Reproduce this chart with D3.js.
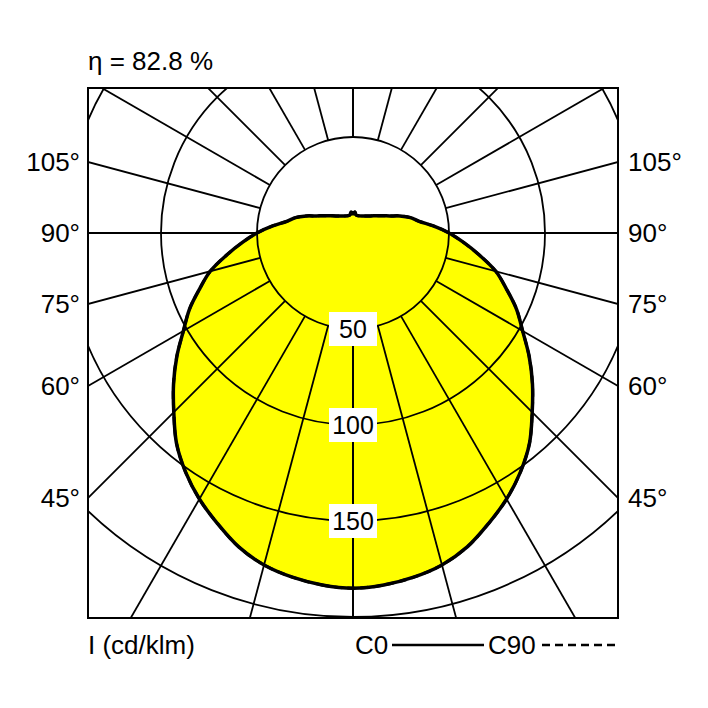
<!DOCTYPE html>
<html><head><meta charset="utf-8">
<script src="https://cdn.jsdelivr.net/npm/d3@7"></script>
<style>body{margin:0;background:#fff}svg text{font-family:"Liberation Sans Narrow","Liberation Sans",sans-serif;}</style>
</head><body>
<script>
// luminous intensity (cd/klm) vs angle from nadir
const angles = [0,5,10,15,20,25,30,35,40,45,50,55,60,65,70,75,80,85,90,95,100,105,110,115,120,130,140,150,160,170,175,180];
const c0 = [185,184,182,179,174,167,160,152,143,132,122,112,102,94,85,77,67,58,50,42,35,31,26,21,18,14,11.5,10.2,9.5,9.5,11,10];
const c90 = c0.slice();
const rings = [50,100,150,200];
const ringLabels = [50,100,150];
const angleTicks = [45,60,75,90,105];
const eta = "η = 82.8 %";

const box = {x0:88, y0:88, x1:618, y1:618};
const cx = 353, cy = 233;
const r = d3.scaleLinear().domain([0,50]).range([0,96]);
const pt = (deg, v, side) => {
  const a = deg*Math.PI/180;
  return [cx + side*r(v)*Math.sin(a), cy + r(v)*Math.cos(a)];
};

const svg = d3.select("body").append("svg").attr("width",708).attr("height",708);
svg.append("clipPath").attr("id","bx").append("rect")
  .attr("x",box.x0).attr("y",box.y0).attr("width",box.x1-box.x0).attr("height",box.y1-box.y0);

const curvePts = (vals) => {
  const left = angles.map((a,i)=>pt(a,vals[i],-1));
  const right = angles.map((a,i)=>pt(a,vals[i],1)).reverse();
  return left.concat(right.slice(1, -1));
};
const line = d3.line().curve(d3.curveCatmullRomClosed);

const g = svg.append("g").attr("clip-path","url(#bx)");
g.append("path").attr("d", line(curvePts(c0))).attr("fill","#ffff00");

rings.forEach(v => g.append("circle").attr("cx",cx).attr("cy",cy).attr("r",r(v))
  .attr("fill","none").attr("stroke","#000").attr("stroke-width",1.8));
for (let a = 0; a <= 180; a += 15) {
  [-1,1].forEach(s => {
    const p0 = pt(a,50,s), p1 = pt(a,400,s);
    g.append("line").attr("x1",p0[0]).attr("y1",p0[1]).attr("x2",p1[0]).attr("y2",p1[1])
      .attr("stroke","#000").attr("stroke-width",1.8);
  });
}

g.append("path").attr("d", line(curvePts(c90))).attr("fill","none")
  .attr("stroke","#000").attr("stroke-width",3).attr("stroke-dasharray","8,5");
g.append("path").attr("d", line(curvePts(c0))).attr("fill","none")
  .attr("stroke","#000").attr("stroke-width",3.5);

svg.append("rect").attr("x",box.x0).attr("y",box.y0).attr("width",box.x1-box.x0).attr("height",box.y1-box.y0)
  .attr("fill","none").attr("stroke","#000").attr("stroke-width",2);

ringLabels.forEach(v => {
  const y = cy + r(v);
  svg.append("rect").attr("x",cx-24).attr("y",y-17).attr("width",48).attr("height",34).attr("fill","#fff");
  svg.append("text").attr("x",cx).attr("y",y+9).attr("text-anchor","middle")
    .attr("font-size",25).text(v);
});

angleTicks.forEach(a => {
  const yy = cy + (cx-box.x0)/Math.tan(a*Math.PI/180);
  svg.append("text").attr("x",80).attr("y",yy+9).attr("text-anchor","end").attr("font-size",26).text(a+"°");
  svg.append("text").attr("x",628).attr("y",yy+9).attr("text-anchor","start").attr("font-size",26).text(a+"°");
});

svg.append("text").attr("x",88).attr("y",70).attr("font-size",26).text(eta);
svg.append("text").attr("x",88).attr("y",654).attr("font-size",26).text("I (cd/klm)");
svg.append("text").attr("x",355).attr("y",654).attr("font-size",26).text("C0");
svg.append("line").attr("x1",392).attr("x2",484).attr("y1",645).attr("y2",645).attr("stroke","#000").attr("stroke-width",2.5);
svg.append("text").attr("x",488).attr("y",654).attr("font-size",26).text("C90");
svg.append("line").attr("x1",542).attr("x2",618).attr("y1",645).attr("y2",645).attr("stroke","#000")
  .attr("stroke-width",2.5).attr("stroke-dasharray","8,5");
</script>
</body></html>
